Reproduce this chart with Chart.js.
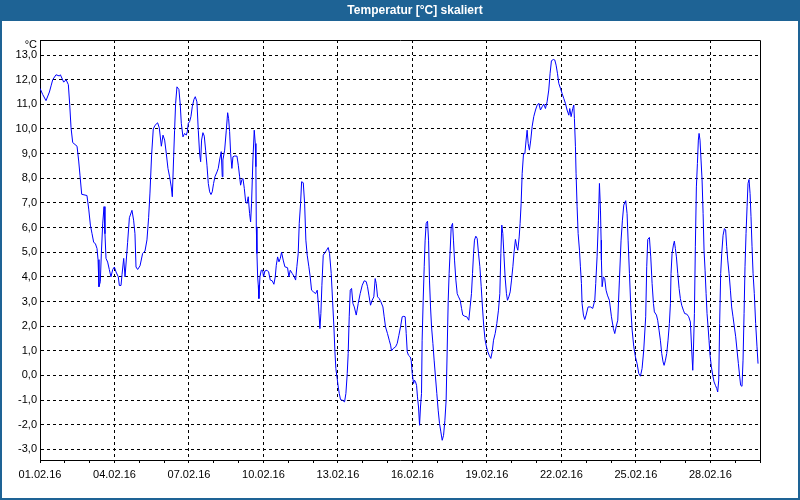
<!DOCTYPE html>
<html>
<head>
<meta charset="utf-8">
<script src="https://cdn.jsdelivr.net/npm/chart.js@4"></script>
<style>
  html, body { margin: 0; padding: 0; background: #ffffff; }
  canvas { display: block; }
</style>
</head>
<body>
<canvas id="tempChart" width="800" height="500"></canvas>
<script>
// Texts
const chartTitle = 'Temperatur [°C] skaliert';
const unitLabel = '°C';

// Tick labels on the time axis (every 3 days)
const dateLabels = ['01.02.16', '04.02.16', '07.02.16', '10.02.16', '13.02.16',
                    '16.02.16', '19.02.16', '22.02.16', '25.02.16', '28.02.16'];

// Tick values on the temperature axis
const yTickValues = [-3, -2, -1, 0, 1, 2, 3, 4, 5, 6, 7, 8, 9, 10, 11, 12, 13];

// Measurement times (hours since 01.02.16 00:00) and temperatures in °C
const hours = [
  0, 2.6, 5.8, 9.1, 10.7, 12.3, 15.5, 18.7, 19.7, 22.9, 25.2, 27.4, 28.7, 30.0, 31.6, 35.8, 37.4, 38.7, 40.3, 45.4,
  47.1, 48.7, 50.3, 51.9, 53.5, 55.1, 56.1, 57.0, 58.3, 59.3, 60.6, 61.9, 62.8, 63.8, 65.4, 67.0, 68.6, 70.3, 71.9, 73.5,
  75.7, 76.7, 78.3, 79.3, 80.9, 82.2, 83.1, 84.7, 86.4, 88.9, 90.5, 91.8, 92.8, 94.4, 96.7, 99.2, 101.5, 103.4, 105.0, 106.3,
  107.9, 109.5, 111.2, 113.7, 115.3, 117.3, 118.9, 120.5, 122.1, 123.7, 125.3, 126.9, 127.9, 129.2, 130.1, 131.1, 132.4, 134.3, 135.6, 136.6,
  138.2, 139.8, 141.4, 142.4, 143.4, 144.6, 145.9, 147.2, 148.8, 150.1, 151.7, 153.0, 154.3, 155.3, 156.2, 157.5, 158.8, 160.1, 161.4, 162.7,
  164.0, 165.3, 166.5, 167.8, 169.1, 171.1, 172.3, 173.6, 175.2, 176.2, 176.8, 178.5, 180.1, 181.4, 182.3, 183.3, 184.3, 185.5, 186.5, 187.8,
  190.4, 191.7, 193.0, 193.9, 195.2, 196.2, 197.5, 198.8, 200.0, 201.3, 202.6, 203.6, 204.5, 205.8, 207.1, 208.1, 208.7, 209.1, 209.7, 210.4,
  211.0, 211.6, 212.6, 213.9, 215.2, 216.1, 217.4, 219.4, 221.0, 222.6, 224.5, 226.1, 227.4, 228.4, 229.7, 231.0, 232.3, 233.5, 235.1, 236.7,
  239.3, 240.6, 241.9, 243.8, 245.8, 247.1, 248.3, 249.6, 250.6, 251.9, 252.9, 254.5, 255.8, 257.0, 258.3, 259.9, 261.2, 262.5, 264.4, 266.4,
  268.0, 269.3, 270.6, 271.5, 272.5, 273.8, 275.4, 277.0, 278.6, 279.9, 281.5, 282.8, 284.1, 285.1, 286.0, 287.3, 288.3, 289.3, 290.5, 292.5,
  294.4, 295.7, 297.0, 297.9, 298.9, 299.9, 301.2, 302.5, 303.8, 305.7, 307.6, 309.5, 311.5, 313.4, 315.3, 316.6, 317.9, 319.5, 321.1, 322.7,
  324.0, 325.0, 326.3, 327.9, 329.5, 331.5, 332.7, 334.0, 335.9, 337.6, 338.9, 339.8, 341.4, 343.7, 345.3, 346.9, 348.5, 350.1, 351.7, 353.0,
  354.0, 355.0, 356.2, 357.9, 358.8, 359.8, 361.1, 362.0, 363.0, 364.0, 364.9, 365.9, 366.9, 367.8, 368.8, 369.4, 370.4, 371.4, 372.3, 373.3,
  374.6, 375.6, 376.5, 377.5, 378.5, 379.8, 381.0, 382.3, 383.6, 384.9, 386.2, 387.5, 388.8, 390.1, 391.4, 392.6, 393.6, 394.6, 395.5, 396.5,
  397.5, 398.8, 399.7, 400.7, 402.0, 403.3, 404.6, 406.2, 407.5, 408.7, 410.7, 412.6, 414.5, 415.8, 417.1, 418.1, 419.1, 420.0, 421.3, 422.6,
  423.9, 425.2, 426.5, 427.7, 429.0, 430.3, 431.6, 432.9, 434.2, 435.8, 437.1, 438.4, 440.0, 441.6, 443.2, 444.5, 445.5, 446.4, 447.4, 448.4,
  449.6, 450.9, 451.9, 453.2, 454.5, 455.8, 457.1, 458.3, 459.6, 460.9, 461.9, 463.2, 464.1, 465.1, 466.1, 467.4, 468.7, 469.9, 470.9, 471.9,
  473.1, 474.4, 475.7, 477.3, 479.0, 480.6, 482.2, 483.8, 485.4, 487.0, 488.6, 490.2, 491.8, 493.1, 494.4, 496.3, 497.6, 498.9, 500.2, 501.5,
  503.1, 504.7, 506.3, 507.9, 509.5, 511.2, 512.1, 513.4, 515.0, 516.0, 516.6, 517.6, 518.2, 519.2, 520.2, 521.5, 522.4, 523.4, 524.0, 525.3,
  526.6, 527.9, 529.8, 532.1, 534.3, 536.3, 537.2, 538.5, 539.8, 540.8, 541.8, 542.4, 542.7, 543.4, 544.6, 545.9, 547.2, 548.5, 550.4, 552.4,
  554.3, 555.6, 556.9, 558.5, 560.1, 561.7, 563.0, 564.3, 566.2, 567.5, 568.5, 569.8, 571.1, 572.4, 574.0, 575.6, 577.2, 578.8, 580.4, 582.0,
  583.6, 585.5, 586.5, 587.5, 589.1, 590.4, 591.7, 593.0, 593.9, 595.9, 597.1, 598.4, 599.7, 601.0, 602.3, 603.3, 604.6, 605.8, 607.1, 608.4,
  609.4, 610.0, 611.0, 612.3, 613.2, 614.2, 615.2, 616.5, 617.8, 619.0, 620.3, 621.9, 623.2, 625.2, 627.1, 628.7, 630.0, 631.0, 631.6, 632.6,
  633.5, 634.5, 635.5, 636.4, 637.1, 638.0, 639.0, 640.0, 641.0, 641.9, 642.9, 643.9, 644.8, 645.8, 646.7, 647.7, 649.0, 650.3, 651.6, 652.9,
  654.2, 655.1, 656.1, 657.0, 658.0, 659.0, 660.3, 661.6, 662.8, 663.8, 664.8, 666.1, 667.4, 668.6, 669.9, 671.2, 672.5, 673.8, 675.1, 676.4,
  677.3, 678.6, 679.6, 680.6, 681.5, 682.5, 683.5, 684.4, 685.4, 686.4, 687.3, 688.3, 689.3, 690.5, 691.8, 693.1, 694.1
];
const temps = [
  11.65, 11.4, 11.15, 11.5, 11.75, 12.0, 12.2, 12.15, 12.2, 11.9, 12.0, 11.8, 11.0, 10.05, 9.45, 9.3, 8.7, 8.1, 7.35, 7.3,
  6.75, 6.1, 5.75, 5.4, 5.35, 5.15, 4.7, 3.6, 3.8, 4.95, 6.15, 6.85, 5.75, 4.75, 4.6, 4.3, 4.0, 4.3, 4.4, 4.2,
  4.0, 3.65, 3.65, 4.1, 4.75, 4.0, 4.0, 5.4, 6.4, 6.7, 6.3, 5.75, 4.4, 4.3, 4.45, 4.95, 5.05, 5.5, 6.4, 7.4,
  8.95, 10.0, 10.15, 10.25, 10.05, 9.3, 9.75, 9.55, 9.0, 8.4, 8.06, 7.65, 7.25, 8.87, 9.95, 11.04, 11.71, 11.6, 10.97, 10.23,
  9.68, 9.82, 9.75, 9.89, 10.23, 10.3, 10.5, 10.9, 11.2, 11.31, 11.1, 9.95, 9.0, 8.67, 9.55, 9.85, 9.71, 9.14, 8.53, 7.79,
  7.45, 7.34, 7.45, 7.79, 8.06, 8.26, 8.4, 8.74, 9.08, 8.06, 8.74, 9.14, 9.95, 10.66, 10.43, 9.89, 9.0, 8.4, 8.87, 8.9,
  8.9, 8.53, 8.06, 7.72, 7.95, 7.99, 7.59, 7.05, 6.98, 7.25, 6.57, 6.23, 6.98, 8.74, 9.95, 9.41, 8.47, 6.03, 4.95, 4.0,
  3.66, 3.12, 4.0, 4.27, 4.27, 4.0, 4.24, 4.27, 4.2, 3.87, 3.84, 3.7, 4.0, 4.47, 4.81, 4.61, 4.75, 5.0, 4.68, 4.41,
  4.37, 4.0, 4.27, 4.14, 4.0, 3.87, 4.41, 4.95, 6.17, 6.98, 7.86, 7.82, 6.98, 5.49, 4.88, 4.41, 4.0, 3.46, 3.39, 3.32,
  3.46, 2.78, 1.9, 2.51, 3.66, 4.88, 4.98, 5.08, 5.19, 4.95, 4.14, 3.05, 1.97, 0.96, 0.28, -0.13, -0.47, -0.73, -0.98, -1.01,
  -1.07, -0.73, 0.08, 0.89, 2.38, 3.46, 3.53, 2.92, 2.78, 2.45, 2.92, 3.32, 3.66, 3.84, 3.81, 3.6, 3.26, 2.85, 3.05, 3.19,
  3.93, 3.73, 3.19, 3.12, 2.99, 2.78, 2.38, 1.97, 1.7, 1.43, 1.23, 1.0, 1.09, 1.16, 1.3, 1.63, 1.97, 2.38, 2.4, 2.38,
  1.7, 0.96, 0.82, 0.75, 0.62, 0.08, -0.33, -0.19, -0.26, -0.4, -0.87, -1.28, -2.02, -1.28, -0.73, 1.43, 3.05, 4.41, 5.49, 6.17,
  6.26, 5.49, 3.87, 2.78, 1.97, 1.3, 0.62, -0.06, -0.73, -1.41, -1.95, -2.29, -2.63, -2.43, -1.82, -1.01, 1.03, 3.05, 4.14, 5.08,
  6.03, 6.17, 5.49, 4.68, 3.87, 3.32, 3.19, 3.05, 2.72, 2.45, 2.4, 2.38, 2.24, 2.78, 3.32, 4.14, 4.95, 5.49, 5.65, 5.56,
  4.95, 4.41, 3.6, 2.78, 1.97, 1.43, 1.16, 0.96, 0.82, 0.69, 0.96, 1.43, 1.7, 2.11, 2.65, 3.32, 4.95, 6.1, 5.76, 4.95,
  4.0, 3.32, 3.05, 3.19, 3.39, 3.87, 4.41, 5.02, 5.52, 5.22, 5.08, 5.62, 6.17, 6.98, 8.2, 9.0, 9.0, 9.55, 9.95, 9.41,
  9.14, 9.55, 10.09, 10.5, 10.77, 10.97, 11.04, 10.77, 10.9, 11.01, 10.83, 11.1, 11.58, 12.26, 12.77, 12.82, 12.8, 12.59, 12.26, 11.85,
  11.65, 11.44, 11.24, 11.04, 10.77, 10.56, 10.83, 10.5, 10.83, 10.97, 10.43, 9.28, 8.2, 6.84, 5.76, 5.08, 4.41, 3.73, 2.92, 2.45,
  2.27, 2.45, 2.78, 2.78, 2.72, 3.05, 3.73, 4.81, 6.3, 7.79, 6.71, 5.49, 4.68, 3.6, 4.0, 3.93, 3.46, 3.26, 3.05, 2.38,
  1.9, 1.7, 1.97, 2.24, 3.87, 5.49, 6.3, 6.91, 7.09, 6.57, 5.49, 4.14, 2.78, 1.84, 1.16, 0.75, 0.48, 0.08, -0.03, 0.28,
  1.02, 2.38, 4.41, 5.52, 5.6, 4.81, 3.73, 2.92, 2.58, 2.45, 2.24, 1.84, 1.43, 0.89, 0.55, 0.41, 0.62, 0.89, 1.43, 2.11,
  2.92, 4.14, 4.95, 5.29, 5.45, 5.15, 4.81, 4.14, 3.53, 3.12, 2.85, 2.65, 2.51, 2.49, 2.38, 2.17, 1.02, 0.21, 0.96, 2.51,
  5.22, 7.65, 8.6, 9.55, 9.82, 9.55, 8.74, 7.93, 6.57, 5.08, 4.27, 3.32, 2.51, 1.97, 1.43, 0.82, 0.35, 0.01, -0.26, -0.4,
  -0.53, -0.67, -0.19, 2.11, 4.14, 4.95, 5.69, 5.96, 5.9, 5.22, 4.68, 4.14, 3.46, 2.78, 2.38, 1.97, 1.57, 1.02, 0.48, -0.06,
  -0.4, -0.44, 0.62, 2.51, 4.41, 5.76, 6.84, 7.79, 7.95, 7.38, 6.44, 5.22, 4.14, 3.32, 2.11, 1.16, 0.48
];

const points = hours.map((h, i) => ({ x: h, y: temps[i] }));

const frameBlue = '#1e6395';

Chart.defaults.font.family = '"Liberation Sans", Arial, sans-serif';
Chart.defaults.font.size = 11;
Chart.defaults.color = '#000000';

// Draws the title bar, the outer frame, the unit label and the closed plot box
const framePlugin = {
    id: 'frame',
    beforeDraw(chart) {
        const c = chart.ctx;
        const w = chart.width, h = chart.height;
        c.save();
        c.fillStyle = '#ffffff';
        c.fillRect(0, 0, w, h);
        c.fillStyle = frameBlue;
        c.fillRect(0, 0, w, 21);
        c.fillRect(0, 0, 2, h);
        c.fillRect(w - 2, 0, 2, h);
        c.fillRect(0, h - 2, w, 2);
        c.fillStyle = '#ffffff';
        c.font = 'bold 12px "Liberation Sans", Arial, sans-serif';
        c.textAlign = 'center';
        c.textBaseline = 'middle';
        c.fillText(chartTitle, 415, 11);
        c.fillStyle = '#000000';
        c.font = '11px "Liberation Sans", Arial, sans-serif';
        c.textAlign = 'right';
        c.fillText(unitLabel, 37, 45);
        c.restore();
    },
    afterDraw(chart) {
        const a = chart.chartArea;
        const c = chart.ctx;
        c.save();
        c.strokeStyle = '#000000';
        c.lineWidth = 1;
        c.beginPath();
        c.moveTo(Math.floor(a.left) + 0.5, Math.floor(a.top) + 0.5);
        c.lineTo(Math.floor(a.right) + 0.5, Math.floor(a.top) + 0.5);
        c.lineTo(Math.floor(a.right) + 0.5, Math.floor(a.bottom) + 0.5);
        c.stroke();
        c.restore();
    }
};

const chart = new Chart(document.getElementById('tempChart'), {
    type: 'line',
    data: {
        datasets: [{
            label: chartTitle,
            data: points,
            borderColor: '#0000ff',
            borderWidth: 1,
            pointRadius: 0,
            tension: 0,
            fill: false
        }]
    },
    options: {
        responsive: false,
        animation: false,
        layout: {
            padding: { top: 40, right: 40, bottom: 0, left: 0 }
        },
        plugins: {
            legend: { display: false },
            title: { display: false },
            tooltip: { enabled: false }
        },
        scales: {
            x: {
                type: 'linear',
                min: 0,
                max: 696,
                bounds: 'data',
                afterFit(scale) { scale.height = 40; },
                ticks: {
                    stepSize: 24,
                    autoSkip: false,
                    maxRotation: 0,
                    padding: 5,
                    callback(value) {
                        if (value % 72 === 0 && value < 696) {
                            return dateLabels[value / 72];
                        }
                        return '';
                    }
                },
                grid: {
                    color(ctx) {
                        const v = ctx.tick ? ctx.tick.value : 0;
                        return (v % 72 === 0 && v > 0 && v < 696) ? '#000000' : 'rgba(0,0,0,0)';
                    },
                    lineWidth: 1,
                    tickColor: '#000000',
                    tickLength: 3
                },
                border: { display: true, color: '#000000', width: 1, dash: [3, 3] }
            },
            y: {
                min: -3.43,
                max: 13.61,
                bounds: 'data',
                afterFit(scale) { scale.width = 40; },
                afterBuildTicks(scale) {
                    scale.ticks = yTickValues.map(v => ({ value: v }));
                },
                ticks: {
                    autoSkip: false,
                    padding: 3,
                    callback(value) {
                        return value.toFixed(1).replace('.', ',');
                    }
                },
                grid: {
                    color: '#000000',
                    lineWidth: 1,
                    drawTicks: false
                },
                border: { display: true, color: '#000000', width: 1, dash: [3, 3] }
            }
        }
    },
    plugins: [framePlugin]
});
</script>
</body>
</html>
